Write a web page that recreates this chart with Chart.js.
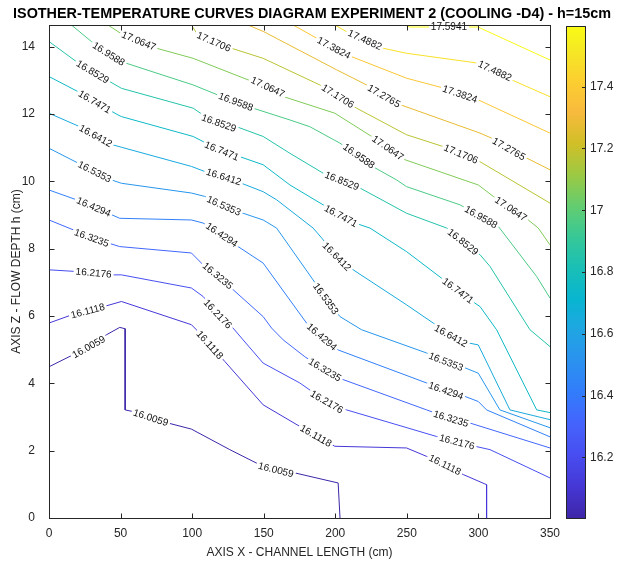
<!DOCTYPE html>
<html lang="en">
<head>
  <meta charset="UTF-8">
  <title>Isotherm curves - Experiment 2</title>
  <script src="https://cdn.jsdelivr.net/npm/chart.js"></script>
  <style>
    html, body { margin: 0; padding: 0; background: #fff; }
    #grafico { display: block; }
  </style>
</head>
<body>
  <canvas id="grafico" width="623" height="572"></canvas>

  <script>
    // Contour levels (temperature, °C)
    const levels = [16.0059, 16.1118, 16.2176, 16.3235, 16.4294, 16.5353, 16.6412, 16.7471,
                    16.8529, 16.9588, 17.0647, 17.1706, 17.2765, 17.3824, 17.4882, 17.5941];

    const xTicks = [0, 50, 100, 150, 200, 250, 300, 350];
    const yTicks = [0, 2, 4, 6, 8, 10, 12, 14];
    const cbTicks = [16.2, 16.4, 16.6, 16.8, 17.0, 17.2, 17.4];
    const cbRange = [16.004, 17.596];
    const xMax = 350;
    const zMax = 14.64;

    // Isolines: [x (cm), z (cm)] vertices
    const iso1 = [[0,4.49],[27.8,5.08],[40.1,5.44],[49.4,5.66],[53.2,5.62],[53.2,3.21],[58.7,3.16],[71.1,2.98],[83.2,2.82],[99.5,2.64],[126.3,2.03],[145.0,1.63],[158.5,1.43],[171.7,1.34],[202.0,1.04],[203.3,0]];
    const iso2 = [[0,5.79],[15.7,6.03],[27.1,6.15],[40.1,6.30],[50.6,6.43],[99.5,5.74],[103.0,5.59],[112.3,5.14],[122.8,4.65],[149.6,3.36],[175.2,2.72],[186.4,2.44],[199.7,2.13],[249.8,2.08],[263.8,1.83],[276.6,1.58],[289.4,1.29],[305.7,0.99],[305.7,0]];
    const iso3 = [[0,7.37],[19.2,7.32],[31.2,7.28],[44.7,7.22],[50.6,7.22],[99.5,6.83],[107.6,6.58],[117.9,6.06],[128.6,5.64],[135.6,5.29],[149.6,4.60],[175.2,4.01],[194.1,3.45],[207.9,3.21],[270.8,2.42],[285.0,2.26],[297.6,2.13],[308.1,2.03],[350,1.19]];
    const iso4 = [[0,8.85],[16.8,8.56],[29.8,8.32],[49.4,8.06],[99.5,7.87],[107.6,7.52],[117.9,7.19],[128.6,6.78],[149.6,5.98],[155.5,5.64],[163.6,5.29],[178.7,4.79],[192.7,4.40],[205.5,4.11],[263.8,3.21],[280.8,2.95],[294.1,2.82],[350,2.08]];
    const iso5 = [[0,9.74],[19.2,9.45],[31.2,9.24],[49.4,8.90],[99.5,8.85],[107.6,8.76],[120.7,8.41],[132.1,8.06],[149.6,7.57],[179.9,5.79],[190.6,5.38],[202.0,4.99],[263.8,4.01],[277.3,3.78],[290.6,3.61],[299.9,3.46],[305.7,3.21],[350,2.41]];
    const iso6 = [[0,10.98],[20.3,10.54],[31.9,10.28],[43.6,10.04],[50.6,9.94],[99.5,9.65],[108.8,9.55],[122.1,9.27],[135.6,9.05],[149.6,8.85],[159.0,8.61],[184.5,7.07],[193.4,6.51],[203.3,5.98],[218.4,5.59],[263.8,4.90],[277.3,4.64],[290.6,4.46],[299.9,4.30],[315.0,3.21],[350,2.68]];
    const iso7 = [[0,12.02],[21.5,11.62],[32.6,11.35],[44.7,11.08],[50.6,11.01],[99.5,10.44],[108.8,10.29],[122.1,10.13],[134.5,9.94],[149.6,9.69],[159.0,9.45],[184.5,8.61],[190.4,8.32],[201.1,7.76],[212.5,7.37],[249.8,6.33],[268.4,5.79],[280.8,5.41],[294.1,5.19],[299.9,5.14],[322.0,3.21],[350,2.92]];
    const iso8 = [[0,13.11],[20.3,12.66],[31.9,12.36],[48.2,11.97],[50.6,11.92],[100.7,11.33],[107.6,11.18],[120.7,10.90],[133.3,10.73],[149.6,10.49],[168.3,9.89],[191.5,9.30],[203.9,8.97],[217.2,8.71],[224.2,8.61],[249.8,7.91],[274.3,7.12],[285.7,6.75],[297.6,6.38],[301.1,6.28],[312.7,5.59],[340.7,3.21],[350,3.13]];
    const iso9 = [[0,14.15],[19.2,13.55],[30.5,13.25],[42.4,12.96],[50.6,12.76],[100.7,12.17],[107.6,11.97],[118.6,11.73],[131.0,11.62],[149.6,11.33],[168.3,10.83],[191.5,10.24],[204.6,10.01],[217.2,9.80],[249.8,9.05],[277.8,8.61],[289.2,8.20],[301.1,7.82],[308.1,7.47],[336.0,5.59],[350,5.09]];
    const iso10 = [[15.7,14.64],[29.6,14.15],[41.7,13.78],[53.6,13.51],[100.7,12.86],[118.1,12.56],[130.5,12.36],[142.6,12.17],[168.3,11.82],[182.2,11.62],[203.3,11.13],[216.5,10.75],[227.7,10.40],[242.8,10.04],[249.8,9.84],[287.1,9.30],[301.8,8.94],[313.9,8.66],[340.7,7.17],[350,6.53]];
    const iso11 = [[41.2,14.64],[50.6,14.38],[62.7,14.17],[75.1,13.95],[100.7,13.65],[139.1,13.01],[152.9,12.80],[164.8,12.50],[199.7,12.02],[225.4,11.33],[236.8,10.99],[248.6,10.64],[299.9,9.89],[310.4,9.55],[322.7,9.18],[334.8,8.85],[341.8,8.61],[350,8.11]];
    const iso12 = [[99.5,14.64],[103.0,14.41],[115.1,14.14],[127.5,13.95],[149.6,13.65],[189.2,12.86],[201.8,12.53],[214.9,12.17],[249.8,11.38],[275.4,11.03],[287.8,10.81],[301.1,10.58],[350,9.35]];
    const iso13 = [[139.1,14.64],[150.1,14.44],[200.9,13.31],[221.9,12.86],[234.0,12.53],[246.3,12.26],[301.1,11.43],[309.2,11.28],[321.3,10.96],[333.7,10.69],[350,10.34]];
    const iso14 = [[170.6,14.64],[186.9,14.25],[199.0,13.96],[211.4,13.70],[249.8,13.06],[275.4,12.77],[287.1,12.59],[299.7,12.42],[350,11.43]];
    const iso15 = [[199.7,14.64],[207.9,14.44],[220.7,14.20],[233.5,13.95],[249.8,13.80],[297.6,13.52],[311.5,13.28],[323.2,13.01],[350,12.51]];
    const iso16 = [[248.6,14.64],[252.1,14.58],[279.4,14.58],[299.7,14.58],[350,13.60]];

    // Where the level labels sit on each isoline
    const lab1 = [[27.8,5.08],[71.1,2.98],[158.5,1.43]];
    const lab2 = [[27.1,6.15],[112.3,5.14],[186.4,2.44],[276.6,1.58]];
    const lab3 = [[31.2,7.28],[117.9,6.06],[194.1,3.45],[285.0,2.26]];
    const lab4 = [[29.8,8.32],[117.9,7.19],[192.7,4.40],[280.8,2.95]];
    const lab5 = [[31.2,9.24],[120.7,8.41],[190.6,5.38],[277.3,3.78]];
    const lab6 = [[31.9,10.28],[122.1,9.27],[193.4,6.51],[277.3,4.64]];
    const lab7 = [[32.6,11.35],[122.1,10.13],[201.1,7.76],[280.8,5.41]];
    const lab8 = [[31.9,12.36],[120.7,10.90],[203.9,8.97],[285.7,6.75]];
    const lab9 = [[30.5,13.25],[118.6,11.73],[204.6,10.01],[289.2,8.20]];
    const lab10 = [[41.7,13.78],[130.5,12.36],[216.5,10.75],[301.8,8.94]];
    const lab11 = [[62.7,14.17],[152.9,12.80],[236.8,10.99],[322.7,9.18]];
    const lab12 = [[115.1,14.14],[201.8,12.53],[287.8,10.81]];
    const lab13 = [[234.0,12.53],[321.3,10.96]];
    const lab14 = [[199.0,13.96],[287.1,12.59]];
    const lab15 = [[220.7,14.20],[311.5,13.28]];
    const lab16 = [[279.4,14.58]];

    const curves = [iso1, iso2, iso3, iso4, iso5, iso6, iso7, iso8, iso9, iso10, iso11, iso12, iso13, iso14, iso15, iso16];
    const labelPos = [lab1, lab2, lab3, lab4, lab5, lab6, lab7, lab8, lab9, lab10, lab11, lab12, lab13, lab14, lab15, lab16];

    // parula colormap (sampled)
    const parula = [
      [62,38,168],[69,55,213],[72,77,240],[69,99,253],[50,124,252],[43,145,239],[32,165,227],[8,181,208],
      [25,191,182],[55,200,151],[100,205,111],[157,201,67],[209,191,39],[248,186,61],[252,207,48],[245,233,36],[249,251,21]
    ];
    const parulaT = parula.map((_, i) => i === parula.length - 1 ? 1 : i * 4 / 63);

    const corDe = (v) => {
      let t = (v - cbRange[0]) / (cbRange[1] - cbRange[0]);
      t = Math.min(1, Math.max(0, t));
      let k = 0;
      while (k < parula.length - 2 && t > parulaT[k + 1]) k++;
      const f = (t - parulaT[k]) / (parulaT[k + 1] - parulaT[k]);
      const c = parula[k].map((a, j) => Math.round(a + (parula[k + 1][j] - a) * f));
      return `rgb(${c[0]},${c[1]},${c[2]})`;
    };

    const FONT = '"Liberation Sans", Arial, Helvetica, sans-serif';
    const INK = '#262626';
    const labelFont = `10px ${FONT}`;

    // label boxes in pixels (centre, angle, size)
    const labelGeometry = (chart) => {
      const sx = chart.scales.x, sy = chart.scales.y;
      const ctx = chart.ctx;
      ctx.save();
      ctx.font = labelFont;
      const out = curves.map((pts, i) => {
        const px = pts.map(([x, y]) => [sx.getPixelForValue(x), sy.getPixelForValue(y)]);
        const text = levels[i].toFixed(4);
        const w = ctx.measureText(text).width + 4;
        return labelPos[i].map(([lx, ly]) => {
          const cx = sx.getPixelForValue(lx), cy = sy.getPixelForValue(ly);
          let k = 0, best = Infinity;
          px.forEach(([qx, qy], j) => {
            const d = (qx - cx) ** 2 + (qy - cy) ** 2;
            if (d < best) { best = d; k = j; }
          });
          const a = px[Math.max(k - 1, 0)], b = px[Math.min(k + 1, px.length - 1)];
          let ang = Math.atan2(b[1] - a[1], b[0] - a[0]);
          if (ang > Math.PI / 2) ang -= Math.PI;
          if (ang < -Math.PI / 2) ang += Math.PI;
          return { cx, cy, ang, w, h: 9, text };
        });
      });
      ctx.restore();
      return out;
    };

    const boxPath = (ctx, b) => {
      const c = Math.cos(b.ang), s = Math.sin(b.ang);
      const hw = b.w / 2, hh = b.h / 2;
      [[-hw, -hh], [hw, -hh], [hw, hh], [-hw, hh]].forEach(([x, y], j) => {
        const X = b.cx + x * c - y * s, Y = b.cy + x * s + y * c;
        if (j === 0) ctx.moveTo(X, Y); else ctx.lineTo(X, Y);
      });
      ctx.closePath();
    };

    const contourLabels = {
      id: 'contourLabels',
      beforeDatasetsDraw(chart) {
        chart.$labels = labelGeometry(chart);
      },
      beforeDatasetDraw(chart, args) {
        const ctx = chart.ctx;
        ctx.save();
        ctx.beginPath();
        ctx.rect(0, 0, chart.width, chart.height);
        chart.$labels[args.index].forEach(b => boxPath(ctx, b));
        ctx.clip('evenodd');
      },
      afterDatasetDraw(chart) {
        chart.ctx.restore();
      },
      afterDatasetsDraw(chart) {
        const ctx = chart.ctx;
        ctx.save();
        ctx.font = labelFont;
        ctx.fillStyle = '#111';
        ctx.textAlign = 'center';
        ctx.textBaseline = 'middle';
        chart.$labels.flat().forEach(b => {
          ctx.save();
          ctx.translate(b.cx, b.cy);
          ctx.rotate(b.ang);
          ctx.fillText(b.text, 0, 0.5);
          ctx.restore();
        });
        ctx.restore();
      }
    };

    // axes box, inward ticks, colorbar and title
    const moldura = {
      id: 'moldura',
      afterDraw(chart) {
        const ctx = chart.ctx;
        const area = chart.chartArea;
        const sx = chart.scales.x, sy = chart.scales.y;
        const L = Math.round(area.left) + 0.5, R = Math.round(area.right) + 0.5;
        const T = Math.round(area.top) + 0.5, B = Math.round(area.bottom) + 0.5;
        const tick = 5;

        ctx.save();
        ctx.strokeStyle = INK;
        ctx.lineWidth = 1;
        ctx.beginPath();
        xTicks.forEach(v => {
          const x = Math.round(sx.getPixelForValue(v)) + 0.5;
          ctx.moveTo(x, B); ctx.lineTo(x, B - tick);
          ctx.moveTo(x, T); ctx.lineTo(x, T + tick);
        });
        yTicks.forEach(v => {
          const y = Math.round(sy.getPixelForValue(v)) + 0.5;
          ctx.moveTo(L, y); ctx.lineTo(L + tick, y);
          ctx.moveTo(R, y); ctx.lineTo(R - tick, y);
        });
        ctx.stroke();
        ctx.strokeRect(L, T, R - L, B - T);

        // colorbar
        const cbL = Math.round(area.right) + 16, cbW = 19;
        const cbTop = area.top + 1, cbBot = area.bottom;
        const yOf = v => cbBot - (v - cbRange[0]) / (cbRange[1] - cbRange[0]) * (cbBot - cbTop);
        const grad = ctx.createLinearGradient(0, cbBot, 0, cbTop);
        parula.forEach((c, i) => grad.addColorStop(parulaT[i], `rgb(${c[0]},${c[1]},${c[2]})`));
        ctx.fillStyle = grad;
        ctx.fillRect(cbL, cbTop, cbW, cbBot - cbTop);
        ctx.strokeRect(cbL + 0.5, Math.round(cbTop) + 0.5, cbW, Math.round(cbBot - cbTop));
        ctx.beginPath();
        cbTicks.forEach(v => {
          const y = Math.round(yOf(v)) + 0.5;
          ctx.moveTo(cbL + cbW + 0.5, y); ctx.lineTo(cbL + cbW - 3, y);
        });
        ctx.stroke();
        ctx.fillStyle = INK;
        ctx.font = `12px ${FONT}`;
        ctx.textAlign = 'left';
        ctx.textBaseline = 'middle';
        cbTicks.forEach(v => {
          ctx.fillText(String(Number(v.toFixed(1))), cbL + cbW + 5, yOf(v));
        });

        // title
        ctx.font = `bold 14.4px ${FONT}`;
        ctx.textAlign = 'center';
        ctx.textBaseline = 'alphabetic';
        ctx.fillStyle = '#000';
        ctx.fillText('ISOTHER-TEMPERATURE CURVES DIAGRAM EXPERIMENT 2 (COOLING -D4) - h=15cm', 312, 17.5);
        ctx.restore();
      }
    };

    const datasets = curves.map((pts, i) => ({
      label: levels[i].toFixed(4),
      data: pts.map(([x, y]) => ({ x, y })),
      showLine: true,
      borderColor: corDe(levels[i]),
      borderWidth: 1,
      pointRadius: 0,
      pointHoverRadius: 0,
      tension: 0,
      fill: false
    }));

    new Chart(document.getElementById('grafico'), {
      type: 'scatter',
      data: { datasets },
      options: {
        responsive: false,
        animation: false,
        devicePixelRatio: 1,
        layout: { padding: { top: 25, right: 73, left: 0, bottom: 0 } },
        plugins: {
          legend: { display: false },
          tooltip: { enabled: false },
          title: { display: false }
        },
        scales: {
          x: {
            type: 'linear',
            min: 0,
            max: xMax,
            afterBuildTicks: (s) => { s.ticks = xTicks.map(v => ({ value: v })); },
            afterFit: (s) => { s.height = 54; },
            grid: { display: false },
            border: { display: false },
            ticks: { color: INK, font: { family: FONT, size: 12 }, padding: 0, maxRotation: 0 },
            title: {
              display: true,
              text: 'AXIS X - CHANNEL LENGTH (cm)',
              color: INK,
              font: { family: FONT, size: 12 },
              padding: { top: 0, bottom: 12 }
            }
          },
          y: {
            type: 'linear',
            min: 0,
            max: zMax,
            afterBuildTicks: (s) => { s.ticks = yTicks.map(v => ({ value: v })); },
            afterFit: (s) => { s.width = 49; },
            grid: { display: false },
            border: { display: false },
            ticks: { color: INK, font: { family: FONT, size: 12 }, padding: 6 },
            title: {
              display: true,
              text: 'AXIS Z - FLOW DEPTH h (cm)',
              color: INK,
              font: { family: FONT, size: 12 },
              padding: { top: 9, bottom: 0 }
            }
          }
        }
      },
      plugins: [contourLabels, moldura]
    });
  </script>
</body>
</html>
